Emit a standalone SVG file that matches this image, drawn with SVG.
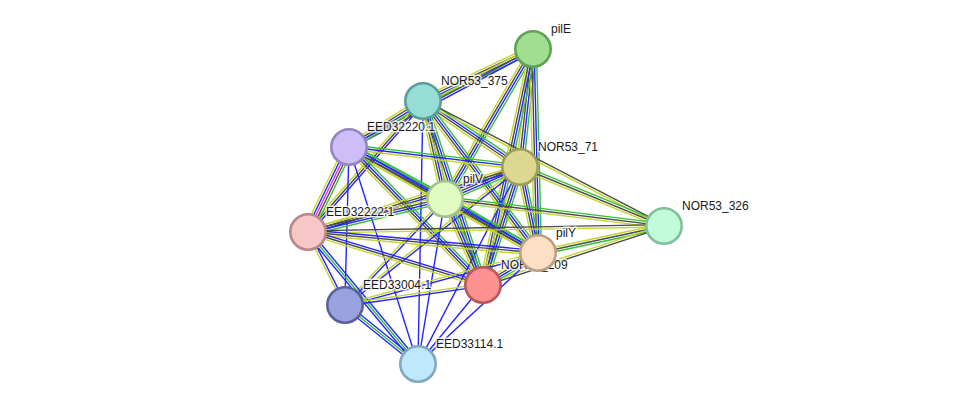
<svg xmlns="http://www.w3.org/2000/svg" xmlns:xlink="http://www.w3.org/1999/xlink" width="976" height="410" viewBox="0 0 976 410">
<style>
line{stroke-width:1.4;fill:none;vector-effect:non-scaling-stroke}
.g{stroke:#33c133}
.b{stroke:#2424ff}
.k{stroke:#4a4a4a}
.y{stroke:#c4d52e}
.m{stroke:#e22ee2}
.node circle{stroke-width:2.6}
.lbl{font-family:"Liberation Sans",Arial,sans-serif;font-size:12px;fill:#1a1a1a;stroke:#ffffff;stroke-width:3;stroke-opacity:0.8;stroke-linejoin:round;paint-order:stroke}
</style>
<defs>
<!-- unit-length bundles of evidence channels; scaled along x per edge -->
<g id="gbky">
<line class="g" x1="0" y1="-3.45" x2="1" y2="-3.45" vector-effect="non-scaling-stroke"/>
<line class="b" x1="0" y1="-1.15" x2="1" y2="-1.15" vector-effect="non-scaling-stroke"/>
<line class="k" x1="0" y1="1.15" x2="1" y2="1.15" vector-effect="non-scaling-stroke"/>
<line class="y" x1="0" y1="3.45" x2="1" y2="3.45" vector-effect="non-scaling-stroke"/>
</g>
<g id="bky">
<line class="b" x1="0" y1="-2.3" x2="1" y2="-2.3" vector-effect="non-scaling-stroke"/>
<line class="k" x1="0" y1="0" x2="1" y2="0" vector-effect="non-scaling-stroke"/>
<line class="y" x1="0" y1="2.3" x2="1" y2="2.3" vector-effect="non-scaling-stroke"/>
</g>
<g id="gby">
<line class="g" x1="0" y1="-2.3" x2="1" y2="-2.3" vector-effect="non-scaling-stroke"/>
<line class="b" x1="0" y1="0" x2="1" y2="0" vector-effect="non-scaling-stroke"/>
<line class="y" x1="0" y1="2.3" x2="1" y2="2.3" vector-effect="non-scaling-stroke"/>
</g>
<g id="gky">
<line class="g" x1="0" y1="-2.3" x2="1" y2="-2.3" vector-effect="non-scaling-stroke"/>
<line class="k" x1="0" y1="0" x2="1" y2="0" vector-effect="non-scaling-stroke"/>
<line class="y" x1="0" y1="2.3" x2="1" y2="2.3" vector-effect="non-scaling-stroke"/>
</g>
<g id="gkmby">
<line class="g" x1="0" y1="-4.6" x2="1" y2="-4.6" vector-effect="non-scaling-stroke"/>
<line class="k" x1="0" y1="-2.3" x2="1" y2="-2.3" vector-effect="non-scaling-stroke"/>
<line class="m" x1="0" y1="0" x2="1" y2="0" vector-effect="non-scaling-stroke"/>
<line class="b" x1="0" y1="2.3" x2="1" y2="2.3" vector-effect="non-scaling-stroke"/>
<line class="y" x1="0" y1="4.6" x2="1" y2="4.6" vector-effect="non-scaling-stroke"/>
</g>
<g id="ky">
<line class="k" x1="0" y1="-1.15" x2="1" y2="-1.15" vector-effect="non-scaling-stroke"/>
<line class="y" x1="0" y1="1.15" x2="1" y2="1.15" vector-effect="non-scaling-stroke"/>
</g>
<g id="by">
<line class="b" x1="0" y1="-1.15" x2="1" y2="-1.15" vector-effect="non-scaling-stroke"/>
<line class="y" x1="0" y1="1.15" x2="1" y2="1.15" vector-effect="non-scaling-stroke"/>
</g>
<g id="bgb">
<line class="b" x1="0" y1="-2.3" x2="1" y2="-2.3" vector-effect="non-scaling-stroke"/>
<line class="g" x1="0" y1="0" x2="1" y2="0" vector-effect="non-scaling-stroke"/>
<line class="b" x1="0" y1="2.3" x2="1" y2="2.3" vector-effect="non-scaling-stroke"/>
</g>
<g id="b1">
<line class="b" x1="0" y1="0" x2="1" y2="0" vector-effect="non-scaling-stroke"/>
</g>
</defs>

<g id="connectors">
<use href="#gbky" transform="translate(533 49) rotate(154.7) scale(121.7 1)"/>
<use href="#bky" transform="translate(533 49) rotate(152) scale(208.5 1)"/>
<use href="#gbky" transform="translate(533 49) rotate(96.3) scale(118.7 1)"/>
<use href="#gbky" transform="translate(533 49) rotate(120.4) scale(173.9 1)"/>
<use href="#gbky" transform="translate(533 49) rotate(88.6) scale(204.1 1)"/>
<use href="#gbky" transform="translate(533 49) rotate(102) scale(241.2 1)"/>
<use href="#gbky" transform="translate(423 101) rotate(148.1) scale(87.1 1)"/>
<use href="#gbky" transform="translate(423 101) rotate(34.2) scale(117.3 1)"/>
<use href="#gbky" transform="translate(423 101) rotate(77.3) scale(100.4 1)"/>
<use href="#bky" transform="translate(423 101) rotate(131.3) scale(174.3 1)"/>
<use href="#ky" transform="translate(423 101) rotate(27.4) scale(271.5 1)"/>
<use href="#gbky" transform="translate(423 101) rotate(52.9) scale(190.6 1)"/>
<use href="#gbky" transform="translate(423 101) rotate(71.9) scale(193.5 1)"/>
<use href="#b1" transform="translate(423 101) rotate(91.1) scale(263 1)"/>
<use href="#gby" transform="translate(349 147) rotate(6.7) scale(172.2 1)"/>
<use href="#gbky" transform="translate(349 147) rotate(28.4) scale(109.2 1)"/>
<use href="#gkmby" transform="translate(349 147) rotate(115.8) scale(94.4 1)"/>
<use href="#gbky" transform="translate(349 147) rotate(29.3) scale(216.7 1)"/>
<use href="#gbky" transform="translate(349 147) rotate(45.8) scale(192.4 1)"/>
<use href="#b1" transform="translate(349 147) rotate(91.5) scale(158.1 1)"/>
<use href="#b1" transform="translate(349 147) rotate(72.4) scale(227.7 1)"/>
<use href="#gbky" transform="translate(520 167) rotate(156.9) scale(81.5 1)"/>
<use href="#bky" transform="translate(520 167) rotate(163) scale(221.7 1)"/>
<use href="#gky" transform="translate(520 167) rotate(22.3) scale(155.6 1)"/>
<use href="#gbky" transform="translate(520 167) rotate(78.2) scale(87.9 1)"/>
<use href="#gbky" transform="translate(520 167) rotate(107.4) scale(123.7 1)"/>
<use href="#by" transform="translate(520 167) rotate(141.7) scale(222.9 1)"/>
<use href="#b1" transform="translate(520 167) rotate(117.4) scale(221.8 1)"/>
<use href="#gbky" transform="translate(445 199) rotate(166.5) scale(140.9 1)"/>
<use href="#gky" transform="translate(445 199) rotate(7) scale(220.7 1)"/>
<use href="#gbky" transform="translate(445 199) rotate(30.1) scale(107.5 1)"/>
<use href="#gbky" transform="translate(445 199) rotate(66.2) scale(94 1)"/>
<use href="#by" transform="translate(445 199) rotate(133.3) scale(145.7 1)"/>
<use href="#b1" transform="translate(445 199) rotate(99.3) scale(167.2 1)"/>
<use href="#ky" transform="translate(308 232) rotate(-1) scale(356.1 1)"/>
<use href="#bky" transform="translate(308 232) rotate(5.2) scale(231 1)"/>
<use href="#bky" transform="translate(308 232) rotate(16.8) scale(182.9 1)"/>
<use href="#by" transform="translate(308 232) rotate(63.1) scale(81.8 1)"/>
<use href="#bgb" transform="translate(308 232) rotate(50.2) scale(171.8 1)"/>
<use href="#gky" transform="translate(664 226) rotate(167.9) scale(128.9 1)"/>
<use href="#ky" transform="translate(664 226) rotate(161.9) scale(190.4 1)"/>
<use href="#gbky" transform="translate(538 253) rotate(149.8) scale(63.6 1)"/>
<use href="#by" transform="translate(538 253) rotate(164.9) scale(199.9 1)"/>
<use href="#b1" transform="translate(538 253) rotate(137.2) scale(163.5 1)"/>
<use href="#by" transform="translate(483 285) rotate(171.8) scale(139.4 1)"/>
<use href="#b1" transform="translate(483 285) rotate(129.5) scale(102.3 1)"/>
<use href="#bgb" transform="translate(345 305) rotate(38.9) scale(93.9 1)"/>
</g>

<g id="pilE" class="node"><circle cx="533" cy="49" r="17.7" fill="#9fdf8f" stroke="#5fa255"/><text class="lbl" x="551" y="33">pilE</text></g>
<g id="NOR53_375" class="node"><circle cx="423" cy="101" r="17.7" fill="#96ddd5" stroke="#5a9e98"/><text class="lbl" x="441" y="85">NOR53_375</text></g>
<g id="EED32220.1" class="node"><circle cx="349" cy="147" r="17.7" fill="#cdbdf8" stroke="#9586c0"/><text class="lbl" x="367" y="131">EED32220.1</text></g>
<g id="NOR53_71" class="node"><circle cx="520" cy="167" r="17.7" fill="#dcd892" stroke="#a09c5c"/><text class="lbl" x="538" y="151">NOR53_71</text></g>
<g id="pilV" class="node"><circle cx="445" cy="199" r="17.7" fill="#e0fcc2" stroke="#a6c08c"/><text class="lbl" x="463" y="183">pilV</text></g>
<g id="EED32222.1" class="node"><circle cx="308" cy="232" r="17.7" fill="#f7c6c6" stroke="#b88888"/><text class="lbl" x="326" y="216">EED32222.1</text></g>
<g id="NOR53_326" class="node"><circle cx="664" cy="226" r="17.7" fill="#c0fcd8" stroke="#82c09c"/><text class="lbl" x="682" y="210">NOR53_326</text></g>
<g id="NOR53_209" class="node"><circle cx="483" cy="285" r="17.7" fill="#fd9090" stroke="#b85858"/><text class="lbl" x="501" y="269">NOR53_209</text></g>
<g id="pilY" class="node"><circle cx="538" cy="253" r="17.7" fill="#fde0c4" stroke="#bba088"/><text class="lbl" x="556" y="237">pilY</text></g>
<g id="EED33004.1" class="node"><circle cx="345" cy="305" r="17.7" fill="#98a2de" stroke="#5a6298"/><text class="lbl" x="363" y="289">EED33004.1</text></g>
<g id="EED33114.1" class="node"><circle cx="418" cy="364" r="17.7" fill="#c0e8fc" stroke="#82a8be"/><text class="lbl" x="436" y="348">EED33114.1</text></g>
</svg>
